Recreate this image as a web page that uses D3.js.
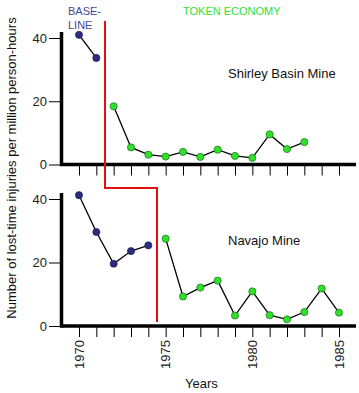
<!DOCTYPE html>
<html><head><meta charset="utf-8">
<script src="https://cdn.jsdelivr.net/npm/d3@7"></script>
<style>body{margin:0;background:#fff}svg{display:block;font-family:"Liberation Sans",Arial,sans-serif}</style>
</head><body><svg id="c" width="359" height="393"></svg>
<script>
const years = d3.range(1970, 1986);
const shirleyBaseYears = [1970, 1971];
const shirleyBase = [41.0, 33.7];
const shirleyTokenYears = [1972,1973,1974,1975,1976,1977,1978,1979,1980,1981,1982,1983];
const shirleyToken = [18.4, 5.4, 3.1, 2.5, 4.0, 2.4, 4.7, 2.7, 2.1, 9.5, 4.9, 7.1];
const navajoBaseYears = [1970,1971,1972,1973,1974];
const navajoBase = [41.2, 29.6, 19.6, 23.6, 25.4];
const navajoTokenYears = [1975,1976,1977,1978,1979,1980,1981,1982,1983,1984,1985];
const navajoToken = [27.5, 9.3, 12.1, 14.3, 3.3, 10.9, 3.4, 2.1, 4.4, 11.8, 4.2];
const yTicks = [0, 20, 40];
const yearLabels = [1970, 1975, 1980, 1985];

const svg = d3.select("#c");
const x = d3.scaleLinear().domain([1970, 1985]).range([79, 339]);
const yTop = d3.scaleLinear().domain([0, 40]).range([164.5, 38]);
const yBot = d3.scaleLinear().domain([0, 40]).range([326, 199]);
const blue = "#2a2c7e", green = "#2ee02a";

function panel(y, topY, baseY, baseV, tokY, tokV, showLabels) {
  const g = svg.append("g");
  // y ticks
  const ya = d3.axisLeft(y).tickValues(yTicks).tickSize(12).tickPadding(2).tickFormat(d3.format("d"));
  const yg = g.append("g").attr("transform", "translate(61,0)").call(ya);
  yg.select(".domain").remove();
  yg.selectAll("line").attr("stroke", "#000").attr("stroke-width", 1);
  yg.selectAll("text").attr("font-size", 13).attr("fill", "#222").attr("font-family", "Liberation Sans, Arial, sans-serif");
  // x ticks
  const xa = d3.axisBottom(x).tickValues(years).tickSize(11).tickFormat(d => showLabels && yearLabels.includes(d) ? d : "");
  const xg = g.append("g").attr("transform", `translate(0,${y(0)})`).call(xa);
  xg.select(".domain").remove();
  xg.selectAll("line").attr("stroke", "#000").attr("stroke-width", 1);
  xg.selectAll("text").attr("font-size", 13).attr("fill", "#222").attr("font-family", "Liberation Sans, Arial, sans-serif")
    .attr("transform", "rotate(-90)").attr("text-anchor", "end").attr("dx", "-14").attr("dy", "4").attr("x", 0).attr("y", 0);
  // axis lines (thick)
  g.append("line").attr("x1", 61.5).attr("x2", 61.5).attr("y1", topY).attr("y2", y(0) + 1.5).attr("stroke", "#000").attr("stroke-width", 3.5);
  g.append("line").attr("x1", 60).attr("x2", 356).attr("y1", y(0)).attr("y2", y(0)).attr("stroke", "#000").attr("stroke-width", 3.5);
  const line = d3.line().x(d => x(d[0])).y(d => y(d[1]));
  const bd = baseY.map((yr, i) => [yr, baseV[i]]);
  const td = tokY.map((yr, i) => [yr, tokV[i]]);
  g.append("path").attr("d", line(bd)).attr("fill", "none").attr("stroke", "#000").attr("stroke-width", 1.3);
  g.append("path").attr("d", line(td)).attr("fill", "none").attr("stroke", "#000").attr("stroke-width", 1.3);
  g.selectAll(".b").data(bd).join("circle").attr("cx", d => x(d[0])).attr("cy", d => y(d[1])).attr("r", 3.6)
    .attr("fill", blue).attr("stroke", "#1a1a50").attr("stroke-width", 0.6);
  g.selectAll(".t").data(td).join("circle").attr("cx", d => x(d[0])).attr("cy", d => y(d[1])).attr("r", 3.6)
    .attr("fill", green).attr("stroke", "#106010").attr("stroke-width", 0.6);
}
panel(yTop, 32, shirleyBaseYears, shirleyBase, shirleyTokenYears, shirleyToken, false);
panel(yBot, 193, navajoBaseYears, navajoBase, navajoTokenYears, navajoToken, true);

// phase change line
const xs1 = (x(1971) + x(1972)) / 2, xs2 = (x(1974) + x(1975)) / 2;
svg.append("path").attr("d", `M${xs1},21 V188 H${xs2} V322`).attr("fill", "none").attr("stroke", "#e01010").attr("stroke-width", 2);

// texts
svg.append("text").attr("x", 68).attr("y", 15).attr("font-size", 11).attr("fill", "#45479a").text("BASE-");
svg.append("text").attr("x", 68).attr("y", 29).attr("font-size", 11).attr("fill", "#45479a").text("LINE");
svg.append("text").attr("x", 183).attr("y", 15).attr("font-size", 11).attr("fill", "#33e033").text("TOKEN ECONOMY");
svg.append("text").attr("x", 228).attr("y", 78).attr("font-size", 13).attr("fill", "#111").text("Shirley Basin Mine");
svg.append("text").attr("x", 228).attr("y", 245).attr("font-size", 13).attr("fill", "#111").text("Navajo Mine");
svg.append("text").attr("x", 185).attr("y", 388).attr("font-size", 13).attr("fill", "#111").text("Years");
svg.append("text").attr("transform", "translate(16,168) rotate(-90)").attr("text-anchor", "middle")
  .attr("font-size", 13).attr("fill", "#111").text("Number of lost-time injuries per million person-hours");
</script></body></html>
